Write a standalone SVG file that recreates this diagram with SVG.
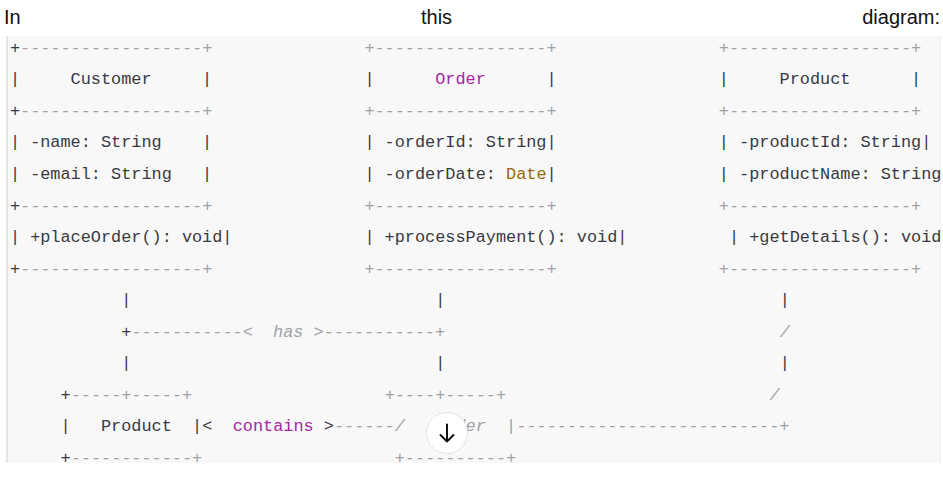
<svg xmlns="http://www.w3.org/2000/svg" width="943" height="483" viewBox="0 0 943 483">
<style>
.h{font-family:"Liberation Sans",Arial,sans-serif;font-size:20px;fill:#111}
.t{font-family:"Liberation Mono","DejaVu Sans Mono",monospace;font-size:16.88px;fill:#383a42;white-space:pre}
.c{fill:#a0a1a7;font-style:italic}
.k{fill:#a626a4}
.ty{fill:#986801}
</style>
<defs>
<clipPath id="blk"><rect x="7" y="36" width="936" height="427"/></clipPath>
</defs>
<rect width="943" height="483" fill="#fff"/>
<text class="h" x="4" y="24">In</text>
<text class="h" x="421" y="24">this</text>
<text class="h" x="940" y="24" text-anchor="end">diagram:</text>
<rect x="7" y="36" width="933" height="427" fill="#f8f8f8"/>
<line x1="7" y1="36" x2="7" y2="463" stroke="#d9d9d9" stroke-width="1.2"/>
<g clip-path="url(#blk)">
<g id="customer">
<text class="t" xml:space="preserve" x="9.9" y="52.8">+<tspan class="c">------------------+</tspan></text>
<text class="t" xml:space="preserve" x="9.9" y="84.3">|     Customer     |</text>
<text class="t" xml:space="preserve" x="9.9" y="115.9">+<tspan class="c">------------------+</tspan></text>
<text class="t" xml:space="preserve" x="9.9" y="147.4">| -name: String    |</text>
<text class="t" xml:space="preserve" x="9.9" y="179">| -email: String   |</text>
<text class="t" xml:space="preserve" x="9.9" y="210.5">+<tspan class="c">------------------+</tspan></text>
<text class="t" xml:space="preserve" x="9.9" y="242">| +placeOrder(): void|</text>
<text class="t" xml:space="preserve" x="9.9" y="273.6">+<tspan class="c">------------------+</tspan></text>
</g>
<g id="order">
<text class="t c" xml:space="preserve" x="364.38" y="52.8">+-----------------+</text>
<text class="t" xml:space="preserve" x="364.38" y="84.3">|      <tspan class="k">Order</tspan>      |</text>
<text class="t c" xml:space="preserve" x="364.38" y="115.9">+-----------------+</text>
<text class="t" xml:space="preserve" x="364.38" y="147.4">| -orderId: String|</text>
<text class="t" xml:space="preserve" x="364.38" y="179">| -orderDate: <tspan class="ty">Date</tspan>|</text>
<text class="t c" xml:space="preserve" x="364.38" y="210.5">+-----------------+</text>
<text class="t" xml:space="preserve" x="364.38" y="242">| +processPayment(): void|</text>
<text class="t c" xml:space="preserve" x="364.38" y="273.6">+-----------------+</text>
</g>
<g id="product">
<text class="t c" xml:space="preserve" x="718.86" y="52.8">+------------------+</text>
<text class="t" xml:space="preserve" x="718.86" y="84.3">|     Product      |</text>
<text class="t c" xml:space="preserve" x="718.86" y="115.9">+------------------+</text>
<text class="t" xml:space="preserve" x="718.86" y="147.4">| -productId: String|</text>
<text class="t" xml:space="preserve" x="718.86" y="179">| -productName: String</text>
<text class="t c" xml:space="preserve" x="718.86" y="210.5">+------------------+</text>
<text class="t" xml:space="preserve" x="728.99" y="242">| +getDetails(): void</text>
<text class="t c" xml:space="preserve" x="718.86" y="273.6">+------------------+</text>
</g>
<g id="product-item">
<text class="t" xml:space="preserve" x="60.54" y="399.7">+<tspan class="c">-----+-----+</tspan></text>
<text class="t" xml:space="preserve" x="60.54" y="431.3">|   Product  |</text>
<text class="t" xml:space="preserve" x="60.54" y="462.8">+<tspan class="c">------------+</tspan></text>
</g>
<g id="order-item">
<text class="t c" xml:space="preserve" x="384.64" y="399.7">+----+-----+</text>
<text class="t c" xml:space="preserve" x="394.76" y="431.3">/   Order  |</text>
<text class="t c" xml:space="preserve" x="394.76" y="462.8">+----------+</text>
</g>
<g id="connectors">
<text class="t" x="121.31" y="305.1">|</text>
<text class="t" x="435.28" y="305.1">|</text>
<text class="t" x="779.63" y="305.1">|</text>
<text class="t" xml:space="preserve" x="121.31" y="336.7">+<tspan class="c">-----------&lt;  has &gt;-----------+</tspan></text>
<text class="t c" x="779.63" y="336.7">/</text>
<text class="t" x="121.31" y="368.2">|</text>
<text class="t" x="435.28" y="368.2">|</text>
<text class="t" x="779.63" y="368.2">|</text>
<text class="t c" x="769.5" y="399.7">/</text>
<text class="t" xml:space="preserve" x="202.33" y="431.3">&lt;  <tspan class="k">contains</tspan> &gt;<tspan class="c">------</tspan></text>
<text class="t c" xml:space="preserve" x="516.3" y="431.3">--------------------------+</text>
</g>
</g>
<line x1="940.5" y1="36" x2="940.5" y2="463" stroke="#e2e2e2" stroke-width="1" opacity="0.6"/>
<g id="scroll-button">
<circle cx="447" cy="433" r="20.5" fill="#fff" stroke="#e3e3e3" stroke-width="1"/>
<path d="M447 424.5V441.5M440.5 435L447 441.5L453.5 435" fill="none" stroke="#111" stroke-width="2" stroke-linecap="round" stroke-linejoin="round"/>
</g>
</svg>
